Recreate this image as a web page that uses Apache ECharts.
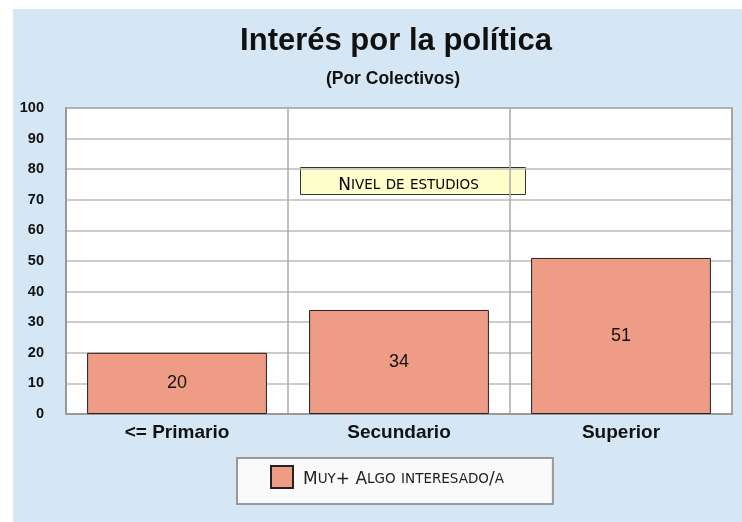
<!DOCTYPE html>
<html>
<head>
<meta charset="utf-8">
<script src="https://cdn.jsdelivr.net/npm/echarts@6/dist/echarts.min.js"></script>
<style>
  html, body { margin: 0; padding: 0; background: #fff; }
  #main { width: 742px; height: 522px; }
</style>
</head>
<body>
<div id="main"></div>
<script>
// datos
const categorias = ['<= Primario', 'Secundario', 'Superior']
const serieNombre = 'Muy+ Algo interesado/a'
const valores = [20, 34, 51]
const notaTexto = 'Nivel de estudios'

// versalitas: minusculas -> mayusculas pequeñas con rich text
function versalitas (txt) {
  let out = ''
  let buf = ''
  let modo = null
  const flush = () => {
    if (buf) out += '{' + modo + '|' + buf + '}'
    buf = ''
  }
  for (const ch of txt) {
    const m = (ch !== ch.toUpperCase()) ? 'sc' : 'big'
    if (m !== modo) { flush(); modo = m }
    buf += m === 'sc' ? ch.toUpperCase() : ch
  }
  flush()
  return out
}
const richSC = {
  sp: { width: 5 },
  big: { fontFamily: 'DejaVu Sans', fontSize: 17, color: '#222' },
  sc: { fontFamily: 'DejaVu Sans', fontSize: 13.5, color: '#222' }
}

let myChart = echarts.init(document.getElementById('main'))
let option = {
  backgroundColor: '#fff',
  graphic: [
    {
      type: 'rect',
      left: 13, top: 9, z: -10,
      shape: { width: 729, height: 513 },
      style: { fill: '#d5e7f5' }
    },
    {
      type: 'group',
      left: 300, top: 167, z: 50,
      children: [
        {
          type: 'rect',
          shape: { x: 0, y: 0, width: 225, height: 27 },
          style: { fill: '#ffffcc', stroke: '#333', lineWidth: 1 }
        },
        {
          type: 'text',
          x: 108, y: 18,
          style: {
            text: versalitas(notaTexto),
            rich: richSC,
            align: 'center',
            verticalAlign: 'middle'
          }
        }
      ]
    }
  ],
  title: [
    {
      text: 'Interés por la política',
      left: 391, top: 21, textAlign: 'center',
      textStyle: { fontFamily: 'Liberation Sans', fontSize: 31, fontWeight: 'bold', color: '#111' }
    },
    {
      text: '(Por Colectivos)',
      left: 388, top: 65, textAlign: 'center',
      textStyle: { fontFamily: 'Liberation Sans', fontSize: 17.5, fontWeight: 'bold', color: '#111' }
    }
  ],
  grid: {
    left: 66, right: 10, top: 108, bottom: 108,
    show: true,
    backgroundColor: '#fff',
    borderColor: '#999',
    borderWidth: 2
  },
  legend: {
    data: [serieNombre],
    left: 237, top: 458,
    backgroundColor: '#fafafa',
    borderColor: '#999',
    borderWidth: 2,
    borderRadius: 0,
    padding: [7, 49, 15, 33],
    itemWidth: 22,
    itemHeight: 22,
    itemGap: 10,
    icon: 'rect',
    formatter: function (name) { return '{sp|}' + versalitas(name) },
    textStyle: { rich: richSC, padding: [5, 0, 0, 0] }
  },
  xAxis: {
    type: 'category',
    data: categorias,
    axisLine: { show: true, lineStyle: { color: '#999', width: 2 } },
    axisTick: { show: false },
    splitLine: { show: true, lineStyle: { color: '#aaa', width: 1.5 } },
    axisLabel: {
      margin: 9,
      fontFamily: 'Liberation Sans',
      fontSize: 19,
      fontWeight: 'bold',
      color: '#111'
    }
  },
  yAxis: {
    type: 'value',
    min: 0,
    max: 100,
    interval: 10,
    axisLine: { show: true, lineStyle: { color: '#999', width: 2 } },
    axisTick: { show: false },
    splitLine: { show: true, lineStyle: { color: '#bbb', width: 1.5 } },
    axisLabel: {
      margin: 22,
      fontFamily: 'Liberation Sans',
      fontSize: 14.5,
      fontWeight: 'bold',
      color: '#111'
    }
  },
  series: [
    {
      name: serieNombre,
      type: 'bar',
      data: valores,
      barWidth: '81%',
      itemStyle: { color: '#ee9c86', borderColor: '#222', borderWidth: 1 },
      label: {
        show: true,
        position: 'inside',
        fontFamily: 'Liberation Sans',
        fontSize: 18,
        color: '#111'
      }
    }
  ]
}
myChart.setOption(option, true)
</script>
</body>
</html>
